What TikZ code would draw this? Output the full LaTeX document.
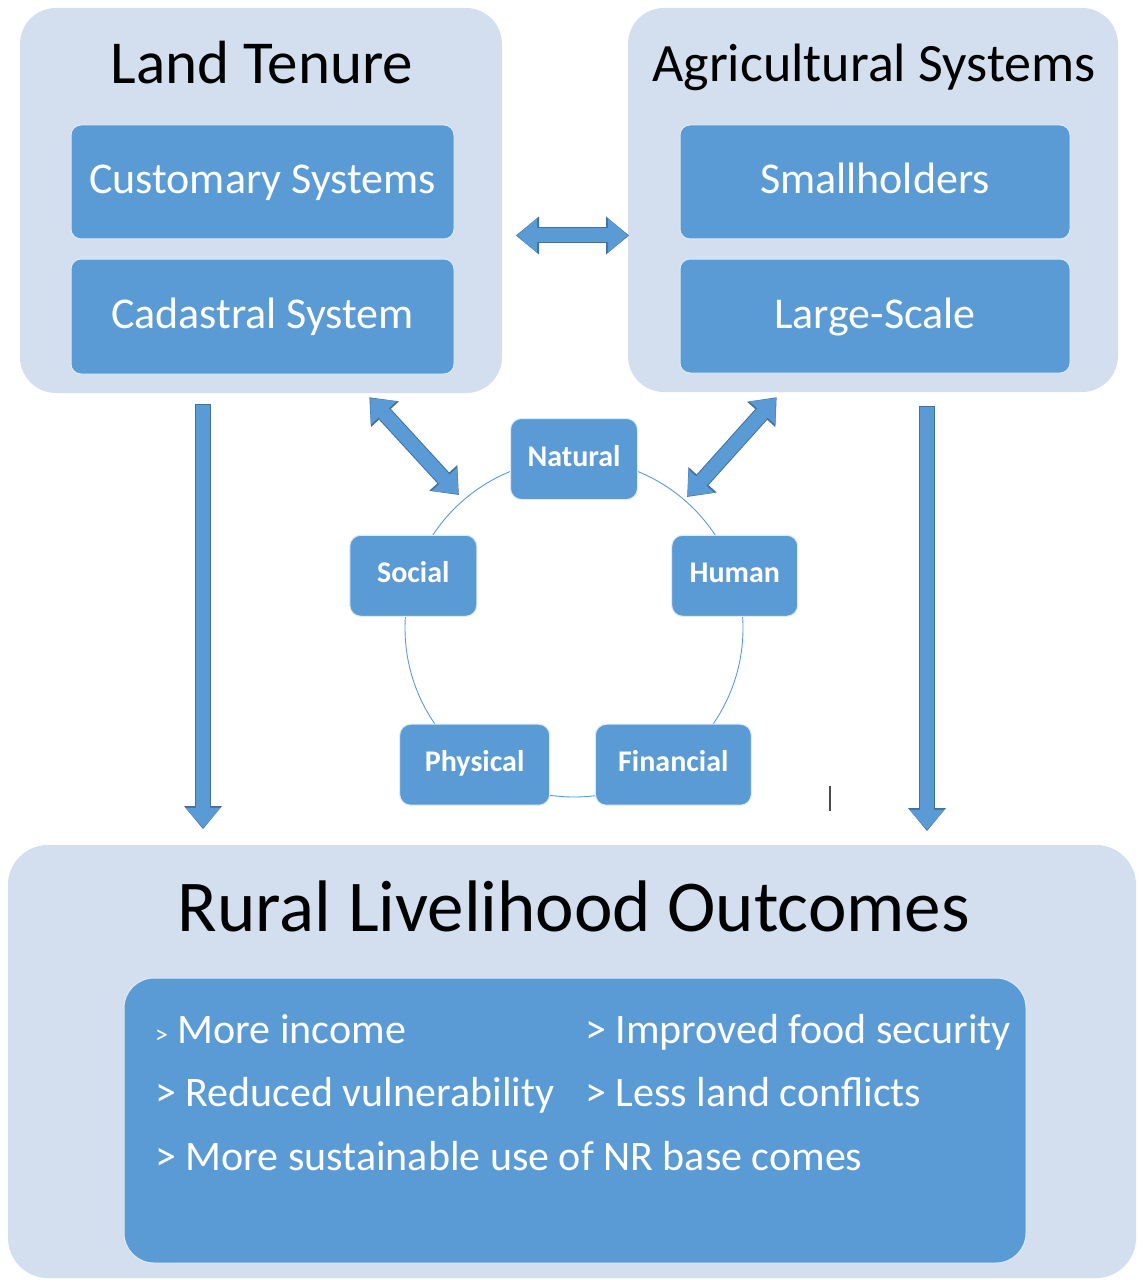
\documentclass[tikz,border=0pt]{standalone}
\usepackage{fontspec}
\setmainfont{Carlito}
\usepackage{xcolor}
\usepackage{tikz}
\usetikzlibrary{arrows.meta}

\definecolor{accent}{RGB}{91,155,213}
\definecolor{pale}{RGB}{211,222,239}
\definecolor{edge}{RGB}{65,113,156}

\begin{document}
\begin{tikzpicture}[x=1pt,y=-1pt,
	panel/.style={rectangle,rounded corners=36pt,fill=pale,inner sep=0pt},
	block/.style={rectangle,rounded corners=10pt,fill=accent,draw=white!80!accent,line width=1pt,
		text=white,inner sep=0pt,text height=33pt,text depth=9pt,font=\fontsize{44}{52}\selectfont},
	capital/.style={rectangle,rounded corners=11pt,fill=accent,draw=white!80!accent,line width=1pt,
		text=white,inner sep=0pt,minimum height=81pt,text height=21pt,text depth=7pt,
		font=\bfseries\fontsize{30}{36}\selectfont},
	heading/.style={anchor=base,text=black,inner sep=0pt},
	item/.style={anchor=base west,text=white,inner sep=0pt,font=\fontsize{42}{50}\selectfont},
	ring/.style={draw=accent,line width=0.9pt},
	fat/.style={draw=accent,line width=14pt,
		preaction={draw=edge,line width=16pt,shorten <=-1pt,shorten >=-1.2pt,
			-{Triangle[width=38pt,length=23pt,line width=0pt]}},
		-{Triangle[width=35pt,length=20pt,line width=0pt]}},
	fatboth/.style={draw=accent,line width=14pt,
		preaction={draw=edge,line width=16pt,shorten <=-1.2pt,shorten >=-1.2pt,
			{Triangle[width=38pt,length=23pt,line width=0pt]}-{Triangle[width=38pt,length=23pt,line width=0pt]}},
		{Triangle[width=35pt,length=20pt,line width=0pt]}-{Triangle[width=35pt,length=20pt,line width=0pt]}}
	]
	\useasboundingbox (0,0) rectangle (1138,1281);
	\fill[white] (0,0) rectangle (1138,1281);
	
	% the two upper panels
	\node[panel,minimum width=482pt,minimum height=385pt] (lt) at (261,200.5) {};
	\node[heading,font=\fontsize{61}{72}\selectfont] (ltt) at (262,84) {Land Tenure};
	\node[block,minimum width=383pt,minimum height=114pt] (cus) at (262.5,182) {Customary Systems};
	\node[block,minimum width=383pt,minimum height=115pt] (cad) at (262.5,316.5) {Cadastral System};
	
	\node[panel,minimum width=490pt,minimum height=384pt] (as) at (873,200) {};
	\node[heading,font=\fontsize{54}{64}\selectfont] (ast) at (874,82) {Agricultural Systems};
	\node[block,minimum width=390pt,minimum height=114pt] (sma) at (875,182) {Smallholders};
	\node[block,minimum width=390pt,minimum height=114pt] (lar) at (875,316) {Large-Scale};
	
	% outcomes panel
	\node[panel,rounded corners=40pt,minimum width=1128pt,minimum height=433pt] (rlo) at (572,1061.5) {};
	\node[heading,font=\fontsize{73}{86}\selectfont] (rlot) at (574,931) {Rural Livelihood Outcomes};
	\node[rectangle,rounded corners=30pt,fill=accent,draw=white!80!accent,line width=1pt,
		minimum width=902pt,minimum height=285pt] (out) at (575,1120.5) {};
	\node[item] (inc) at (155,1043) {{\fontsize{26}{30}\selectfont >} More income};
	\node[item] (food) at (585,1043) {> Improved food security};
	\node[item] (vul) at (155,1106) {> Reduced vulnerability};
	\node[item] (conf) at (585,1106) {> Less land conflicts};
	\node[item] (sus) at (155,1170) {> More sustainable use of NR base comes};
	
	% five capitals on a ring
	\coordinate (hub) at (574,628);
	\draw[ring] (hub) circle[radius=169pt];
	\foreach \nm/\txt/\ang/\w in {nat/Natural/-90/127,hum/Human/-18/126,fin/Financial/54/156,
		phy/Physical/126/150,soc/Social/198/127}{
		\node[capital,minimum width=\w pt] (\nm) at ([shift={(\ang:169)}]hub) {\txt};
	}
	
	% block arrows
	\draw[fatboth] ([xshift=15pt,yshift=4pt]cus.south -| lt.east) -- ([yshift=4pt]cus.south -| as.west);
	\draw[fat] ([xshift=-58pt,yshift=-12pt]lt.south) -- ([xshift=-58pt,yshift=17pt]lt.south |- rlo.north);
	\draw[fat] ([xshift=54pt,yshift=-15pt]as.south) -- ([xshift=54pt,yshift=15pt]as.south |- rlo.north);
	\draw[fatboth] ([xshift=-132pt,yshift=-5pt]lt.south east) -- ([xshift=-52pt,yshift=6pt]nat.south west);
	\draw[fatboth] ([xshift=148pt,yshift=-6pt]as.south west) -- ([xshift=50pt,yshift=4pt]nat.south east);
	
	\draw[line width=1.6pt,black!70] (830,786) -- (830,811);
\end{tikzpicture}
\end{document}
